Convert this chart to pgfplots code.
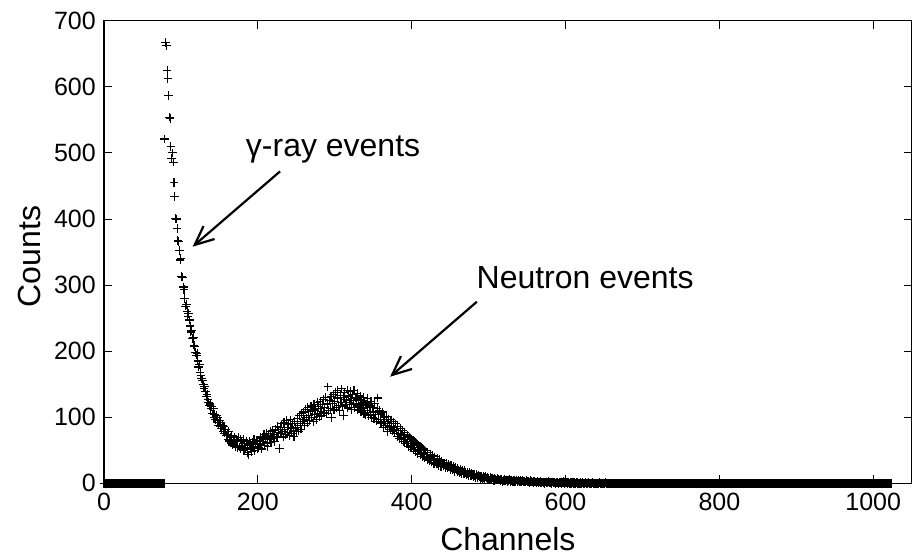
\documentclass[border=0pt]{standalone}
\usepackage{fontspec}
\setmainfont{Liberation Sans}
\usepackage{pgfplots}
\pgfplotsset{compat=1.18}
\usetikzlibrary{arrows.meta}
\begin{document}
\begin{tikzpicture}
\begin{axis}[
 scale only axis, width=807.7pt, height=462.6pt,
 at={(0,0)}, anchor=south west,
 xmin=0, xmax=1050, ymin=0, ymax=700,
 xtick={0,200,...,1000}, ytick={0,100,...,700},
 tick align=inside, major tick length=8pt,
 tick style={line width=0.8pt, black},
 axis line style={line width=1.2pt},
 /pgf/number format/assume math mode=true,
 /pgf/number format/1000 sep={},
 every tick label/.append style={font=\fontsize{25}{30}\selectfont, inner sep=0pt},
 xticklabel shift=10pt, yticklabel shift=8pt,
 xlabel={Channels}, ylabel={Counts},
 label style={font=\fontsize{32}{38}\selectfont, inner sep=0pt},
 xlabel style={at={(axis description cs:0.5,-0.1442)}, anchor=base},
 ylabel style={at={(axis description cs:-0.078,0.49)}, anchor=base},
 clip=false,
]
\addplot[only marks, mark=+, mark size=4.3pt, mark options={line width=1.15pt, black}] table[row sep=\\] {
x y\\
0 0\\1 0\\2 0\\3 0\\4 0\\5 0\\6 0\\7 0\\8 0\\9 0\\
10 0\\11 0\\12 0\\13 0\\14 0\\15 0\\16 0\\17 0\\18 0\\19 0\\
20 0\\21 0\\22 0\\23 0\\24 0\\25 0\\26 0\\27 0\\28 0\\29 0\\
30 0\\31 0\\32 0\\33 0\\34 0\\35 0\\36 0\\37 0\\38 0\\39 0\\
40 0\\41 0\\42 0\\43 0\\44 0\\45 0\\46 0\\47 0\\48 0\\49 0\\
50 0\\51 0\\52 0\\53 0\\54 0\\55 0\\56 0\\57 0\\58 0\\59 0\\
60 0\\61 0\\62 0\\63 0\\64 0\\65 0\\66 0\\67 0\\68 0\\69 0\\
70 0\\71 0\\72 0\\73 0\\74 0\\75 0\\76 0\\77 0\\78 0\\79 521\\
80 667\\81 662\\82 625\\83 613\\84 587\\85 554\\86 552\\87 510\\88 492\\89 500\\
90 486\\91 455\\92 434\\93 401\\94 400\\95 386\\96 367\\97 366\\98 352\\99 338\\
100 340\\101 313\\102 312\\103 297\\104 293\\105 280\\106 268\\107 271\\108 260\\109 253\\
110 257\\111 247\\112 238\\113 229\\114 231\\115 219\\116 221\\117 209\\118 207\\119 198\\
120 194\\121 196\\122 185\\123 176\\124 180\\125 168\\126 163\\127 158\\128 156\\129 150\\
130 144\\131 146\\132 139\\133 131\\134 135\\135 127\\136 122\\137 118\\138 120\\139 113\\
140 116\\141 105\\142 113\\143 100\\144 104\\145 97\\146 103\\147 92\\148 99\\149 88\\
150 95\\151 86\\152 92\\153 83\\154 88\\155 79\\156 86\\157 76\\158 82\\159 72\\
160 74\\161 66\\162 78\\163 64\\164 70\\165 61\\166 72\\167 58\\168 66\\169 62\\
170 70\\171 56\\172 66\\173 54\\174 64\\175 69\\176 55\\177 66\\178 52\\179 63\\
180 57\\181 66\\182 50\\183 60\\184 54\\185 64\\186 46\\187 58\\188 43\\189 63\\
190 52\\191 60\\192 48\\193 62\\194 55\\195 66\\196 50\\197 59\\198 64\\199 53\\
200 65\\201 54\\202 60\\203 70\\204 58\\205 52\\206 68\\207 63\\208 74\\209 57\\
210 66\\211 75\\212 61\\213 56\\214 72\\215 67\\216 78\\217 62\\218 70\\219 80\\
220 68\\221 74\\222 63\\223 82\\224 71\\225 86\\226 69\\227 77\\228 53\\229 84\\
230 75\\231 90\\232 79\\233 70\\234 92\\235 81\\236 74\\237 95\\238 84\\239 77\\
240 89\\241 72\\242 96\\243 83\\244 76\\245 91\\246 80\\247 71\\248 94\\249 85\\
250 78\\251 98\\252 87\\253 79\\254 103\\255 90\\256 82\\257 106\\258 94\\259 108\\
260 96\\261 88\\262 112\\263 99\\264 91\\265 115\\266 102\\267 95\\268 109\\269 117\\
270 100\\271 111\\272 93\\273 119\\274 104\\275 113\\276 97\\277 122\\278 106\\279 116\\
280 101\\281 124\\282 109\\283 102\\284 119\\285 127\\286 107\\287 115\\288 130\\289 105\\
290 120\\291 146\\292 110\\293 125\\294 113\\295 131\\296 100\\297 121\\298 134\\299 111\\
300 124\\301 137\\302 115\\303 129\\304 140\\305 118\\306 110\\307 133\\308 122\\309 143\\
310 117\\311 103\\312 130\\313 138\\314 119\\315 127\\316 141\\317 114\\318 132\\319 122\\
320 139\\321 125\\322 112\\323 134\\324 121\\325 140\\326 115\\327 129\\328 120\\329 136\\
330 111\\331 127\\332 117\\333 132\\334 108\\335 125\\336 114\\337 130\\338 106\\339 123\\
340 104\\341 120\\342 110\\343 128\\344 102\\345 117\\346 107\\347 124\\348 99\\349 115\\
350 108\\351 98\\352 121\\353 104\\354 94\\355 113\\356 129\\357 97\\358 110\\359 92\\
360 105\\361 90\\362 108\\363 84\\364 100\\365 93\\366 87\\367 101\\368 90\\369 78\\
370 97\\371 86\\372 82\\373 96\\374 84\\375 79\\376 93\\377 81\\378 76\\379 90\\
380 80\\381 71\\382 86\\383 75\\384 68\\385 83\\386 72\\387 66\\388 80\\389 69\\
390 63\\391 77\\392 66\\393 60\\394 73\\395 63\\396 56\\397 70\\398 60\\399 54\\
400 67\\401 57\\402 51\\403 64\\404 54\\405 48\\406 61\\407 51\\408 45\\409 58\\
410 49\\411 43\\412 55\\413 46\\414 41\\415 52\\416 43\\417 39\\418 49\\419 41\\
420 36\\421 47\\422 38\\423 34\\424 44\\425 36\\426 32\\427 42\\428 34\\429 30\\
430 40\\431 32\\432 29\\433 38\\434 30\\435 27\\436 36\\437 29\\438 25\\439 34\\
440 29\\441 26\\442 31\\443 28\\444 24\\445 30\\446 26\\447 23\\448 28\\449 25\\
450 21\\451 27\\452 23\\453 20\\454 25\\455 22\\456 18\\457 24\\458 20\\459 17\\
460 22\\461 19\\462 16\\463 21\\464 18\\465 15\\466 20\\467 17\\468 14\\469 19\\
470 16\\471 13\\472 17\\473 15\\474 12\\475 16\\476 14\\477 11\\478 15\\479 13\\
480 10\\481 14\\482 12\\483 9\\484 13\\485 11\\486 8\\487 12\\488 10\\489 7\\
490 11\\491 9\\492 7\\493 10\\494 9\\495 6\\496 10\\497 8\\498 6\\499 9\\
500 7\\501 5\\502 9\\503 7\\504 5\\505 8\\506 6\\507 4\\508 8\\509 6\\
510 5\\511 7\\512 5\\513 6\\514 5\\515 4\\516 6\\517 5\\518 3\\519 5\\
520 4\\521 6\\522 4\\523 5\\524 3\\525 5\\526 4\\527 6\\528 3\\529 4\\
530 5\\531 3\\532 4\\533 2\\534 4\\535 3\\536 5\\537 3\\538 2\\539 4\\
540 3\\541 4\\542 2\\543 3\\544 4\\545 2\\546 3\\547 3\\548 2\\549 4\\
550 3\\551 2\\552 3\\553 1\\554 4\\555 2\\556 3\\557 2\\558 1\\559 3\\
560 2\\561 2\\562 1\\563 3\\564 2\\565 1\\566 2\\567 3\\568 1\\569 2\\
570 2\\571 1\\572 2\\573 0\\574 2\\575 1\\576 2\\577 1\\578 3\\579 1\\
580 2\\581 1\\582 0\\583 2\\584 1\\585 1\\586 2\\587 0\\588 1\\589 2\\
590 1\\591 0\\592 1\\593 2\\594 1\\595 0\\596 1\\597 3\\598 1\\599 0\\
600 1\\601 1\\602 0\\603 2\\604 1\\605 0\\606 1\\607 0\\608 1\\609 1\\
610 0\\611 1\\612 0\\613 0\\614 1\\615 0\\616 1\\617 0\\618 0\\619 1\\
620 0\\621 0\\622 1\\623 0\\624 0\\625 0\\626 1\\627 0\\628 0\\629 0\\
630 1\\631 0\\632 0\\633 0\\634 0\\635 1\\636 0\\637 0\\638 0\\639 0\\
640 0\\641 0\\642 0\\643 0\\644 1\\645 0\\646 0\\647 0\\648 0\\649 0\\
650 0\\651 0\\652 1\\653 0\\654 0\\655 0\\656 0\\657 0\\658 0\\659 0\\
660 0\\661 0\\662 0\\663 0\\664 0\\665 0\\666 0\\667 0\\668 0\\669 0\\
670 0\\671 0\\672 0\\673 0\\674 0\\675 0\\676 0\\677 0\\678 0\\679 0\\
680 0\\681 0\\682 0\\683 0\\684 0\\685 0\\686 0\\687 0\\688 0\\689 0\\
690 0\\691 0\\692 0\\693 0\\694 0\\695 0\\696 0\\697 0\\698 0\\699 0\\
700 0\\701 0\\702 0\\703 0\\704 0\\705 0\\706 0\\707 0\\708 0\\709 0\\
710 0\\711 0\\712 0\\713 0\\714 0\\715 0\\716 0\\717 0\\718 0\\719 0\\
720 0\\721 0\\722 0\\723 0\\724 0\\725 0\\726 0\\727 0\\728 0\\729 0\\
730 0\\731 0\\732 0\\733 0\\734 0\\735 0\\736 0\\737 0\\738 0\\739 0\\
740 0\\741 0\\742 0\\743 0\\744 0\\745 0\\746 0\\747 0\\748 0\\749 0\\
750 0\\751 0\\752 0\\753 0\\754 0\\755 0\\756 0\\757 0\\758 0\\759 0\\
760 0\\761 0\\762 0\\763 0\\764 0\\765 0\\766 0\\767 0\\768 0\\769 0\\
770 0\\771 0\\772 0\\773 0\\774 0\\775 0\\776 0\\777 0\\778 0\\779 0\\
780 0\\781 0\\782 0\\783 0\\784 0\\785 0\\786 0\\787 0\\788 0\\789 0\\
790 0\\791 0\\792 0\\793 0\\794 0\\795 0\\796 0\\797 0\\798 0\\799 0\\
800 0\\801 0\\802 0\\803 0\\804 0\\805 0\\806 0\\807 0\\808 0\\809 0\\
810 0\\811 0\\812 0\\813 0\\814 0\\815 0\\816 0\\817 0\\818 0\\819 0\\
820 0\\821 0\\822 0\\823 0\\824 0\\825 0\\826 0\\827 0\\828 0\\829 0\\
830 0\\831 0\\832 0\\833 0\\834 0\\835 0\\836 0\\837 0\\838 0\\839 0\\
840 0\\841 0\\842 0\\843 0\\844 0\\845 0\\846 0\\847 0\\848 0\\849 0\\
850 0\\851 0\\852 0\\853 0\\854 0\\855 0\\856 0\\857 0\\858 0\\859 0\\
860 0\\861 0\\862 0\\863 0\\864 0\\865 0\\866 0\\867 0\\868 0\\869 0\\
870 0\\871 0\\872 0\\873 0\\874 0\\875 0\\876 0\\877 0\\878 0\\879 0\\
880 0\\881 0\\882 0\\883 0\\884 0\\885 0\\886 0\\887 0\\888 0\\889 0\\
890 0\\891 0\\892 0\\893 0\\894 0\\895 0\\896 0\\897 0\\898 0\\899 0\\
900 0\\901 0\\902 0\\903 0\\904 0\\905 0\\906 0\\907 0\\908 0\\909 0\\
910 0\\911 0\\912 0\\913 0\\914 0\\915 0\\916 0\\917 0\\918 0\\919 0\\
920 0\\921 0\\922 0\\923 0\\924 0\\925 0\\926 0\\927 0\\928 0\\929 0\\
930 0\\931 0\\932 0\\933 0\\934 0\\935 0\\936 0\\937 0\\938 0\\939 0\\
940 0\\941 0\\942 0\\943 0\\944 0\\945 0\\946 0\\947 0\\948 0\\949 0\\
950 0\\951 0\\952 0\\953 0\\954 0\\955 0\\956 0\\957 0\\958 0\\959 0\\
960 0\\961 0\\962 0\\963 0\\964 0\\965 0\\966 0\\967 0\\968 0\\969 0\\
970 0\\971 0\\972 0\\973 0\\974 0\\975 0\\976 0\\977 0\\978 0\\979 0\\
980 0\\981 0\\982 0\\983 0\\984 0\\985 0\\986 0\\987 0\\988 0\\989 0\\
990 0\\991 0\\992 0\\993 0\\994 0\\995 0\\996 0\\997 0\\998 0\\999 0\\
1000 0\\1001 0\\1002 0\\1003 0\\1004 0\\1005 0\\1006 0\\1007 0\\1008 0\\1009 0\\
1010 0\\1011 0\\1012 0\\1013 0\\1014 0\\1015 0\\1016 0\\1017 0\\1018 0\\1019 0\\
1020 0\\1021 0\\1022 0\\1023 0\\
};
\node[anchor=base, inner sep=0pt, font=\fontsize{32}{38}\selectfont] at (axis cs:297.8,494) {γ-ray events};
\node[anchor=base, inner sep=0pt, font=\fontsize{32}{38}\selectfont] at (axis cs:625.5,295) {Neutron events};
\draw[line width=2.2pt, -{Straight Barb[length=19pt,width=17pt,line width=2.2pt]}] (axis cs:228.9,472) -- (axis cs:115.2,358);
\draw[line width=2.2pt, -{Straight Barb[length=19pt,width=17pt,line width=2.2pt]}] (axis cs:484.7,274.7) -- (axis cs:371.9,161.3);
\end{axis}
\pgfresetboundingbox
\path[use as bounding box] (-104pt,-71.7pt) rectangle (809pt,483.3pt);
\end{tikzpicture}
\end{document}
